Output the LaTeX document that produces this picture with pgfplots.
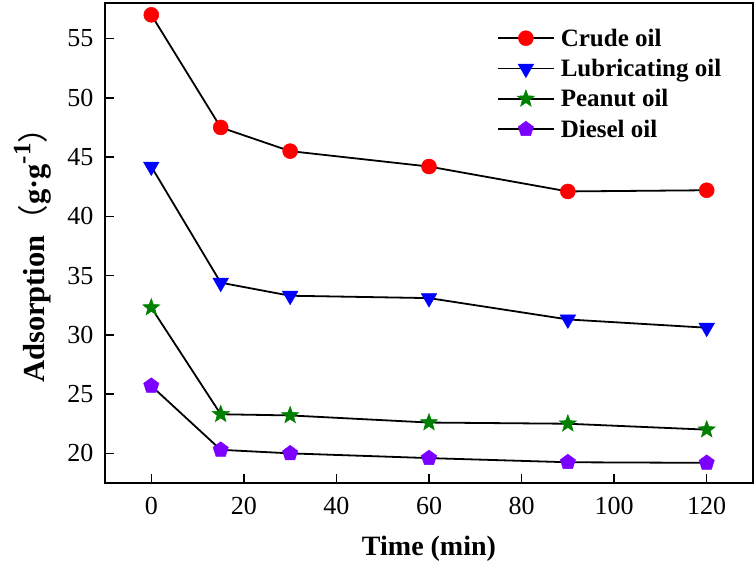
\documentclass[border=0pt]{standalone}
\usepackage{pgfplots}
\pgfplotsset{compat=1.18}
\usepackage{fontspec}
\setmainfont{Liberation Serif}
\newfontfamily\cjk{Noto Sans CJK SC}
\usetikzlibrary{plotmarks}
\definecolor{cred}{RGB}{255,0,0}
\definecolor{cblue}{RGB}{0,0,255}
\definecolor{cgreen}{RGB}{0,128,0}
\definecolor{cviolet}{RGB}{123,0,255}
\pgfdeclareplotmark{fstar}{%
  \pgfpathmoveto{\pgfpointpolar{90}{\pgfplotmarksize}}%
  \pgfpathlineto{\pgfpointpolar{126}{0.42\pgfplotmarksize}}%
  \pgfpathlineto{\pgfpointpolar{162}{\pgfplotmarksize}}%
  \pgfpathlineto{\pgfpointpolar{198}{0.42\pgfplotmarksize}}%
  \pgfpathlineto{\pgfpointpolar{234}{\pgfplotmarksize}}%
  \pgfpathlineto{\pgfpointpolar{270}{0.42\pgfplotmarksize}}%
  \pgfpathlineto{\pgfpointpolar{306}{\pgfplotmarksize}}%
  \pgfpathlineto{\pgfpointpolar{342}{0.42\pgfplotmarksize}}%
  \pgfpathlineto{\pgfpointpolar{18}{\pgfplotmarksize}}%
  \pgfpathlineto{\pgfpointpolar{54}{0.42\pgfplotmarksize}}%
  \pgfpathclose
  \pgfusepathqfillstroke}
\begin{document}
\begin{tikzpicture}
\begin{axis}[
  scale only axis, width=648pt, height=480pt,
  xmin=-10, xmax=130, ymin=17.5, ymax=58,
  xtick={0,20,...,120}, ytick={20,25,...,55},
  tick align=inside, major tick length=9pt,
  xtick pos=bottom, ytick pos=left,
  axis line style={line width=1.6pt}, every tick/.style={line width=1.4pt, black},
  /pgf/number format/assume math mode=true,
  tick label style={font=\fontsize{26}{28}\selectfont},
  xticklabel style={yshift=-11pt},
  yticklabel style={xshift=-8pt},
  xlabel={\textbf{Time (min)}}, 
  ylabel={\textbf{Adsorption}{\cjk （}\textbf{g·g\raisebox{0.45em}{\fontsize{25}{27}\selectfont -1}}{\cjk ）}},
  xlabel style={font=\fontsize{28}{30}\selectfont, yshift=-14pt},
  ylabel style={font=\fontsize{30.5}{32}\selectfont, at={(axis description cs:-0.112,0.49)}, anchor=center},
  legend style={draw=none, fill=none, at={(0.6,0.955)}, anchor=north west,
    font=\bfseries\fontsize{25}{27}\selectfont, row sep=7.5pt,
    nodes={inner xsep=6pt}},
  legend cell align=left,
  legend image code/.code={\draw[mark repeat=2,mark phase=2,#1] plot coordinates {(0pt,0pt) (28pt,0pt) (56pt,0pt)};},
  every axis plot/.append style={line width=1.8pt, black},
]
\addplot[mark=*, mark size=7.5pt, mark options={fill=cred, draw=cred, line width=0.5pt}] coordinates {(0,57.0) (15,47.5) (30,45.5) (60,44.2) (90,42.1) (120,42.2)};
\addlegendentry{Crude oil}
\addplot[mark=triangle*, mark size=9pt, mark options={rotate=180, fill=cblue, draw=cblue, line width=0.5pt}] coordinates {(0,44.2) (15,34.4) (30,33.3) (60,33.1) (90,31.3) (120,30.6)};
\addlegendentry{Lubricating oil}
\addplot[mark=fstar, mark size=9pt, mark options={fill=cgreen, draw=cgreen, line width=0.5pt}] coordinates {(0,32.3) (15,23.3) (30,23.2) (60,22.6) (90,22.5) (120,22.0)};
\addlegendentry{Peanut oil}
\addplot[mark=pentagon*, mark size=8pt, mark options={fill=cviolet, draw=cviolet, line width=0.5pt}] coordinates {(0,25.7) (15,20.3) (30,20.0) (60,19.6) (90,19.25) (120,19.2)};
\addlegendentry{Diesel oil}
\end{axis}
\pgfresetboundingbox
\path[use as bounding box] ([xshift=-105pt,yshift=-88pt]current axis.south west) rectangle ([xshift=3pt,yshift=3pt]current axis.north east);
\end{tikzpicture}
\end{document}
